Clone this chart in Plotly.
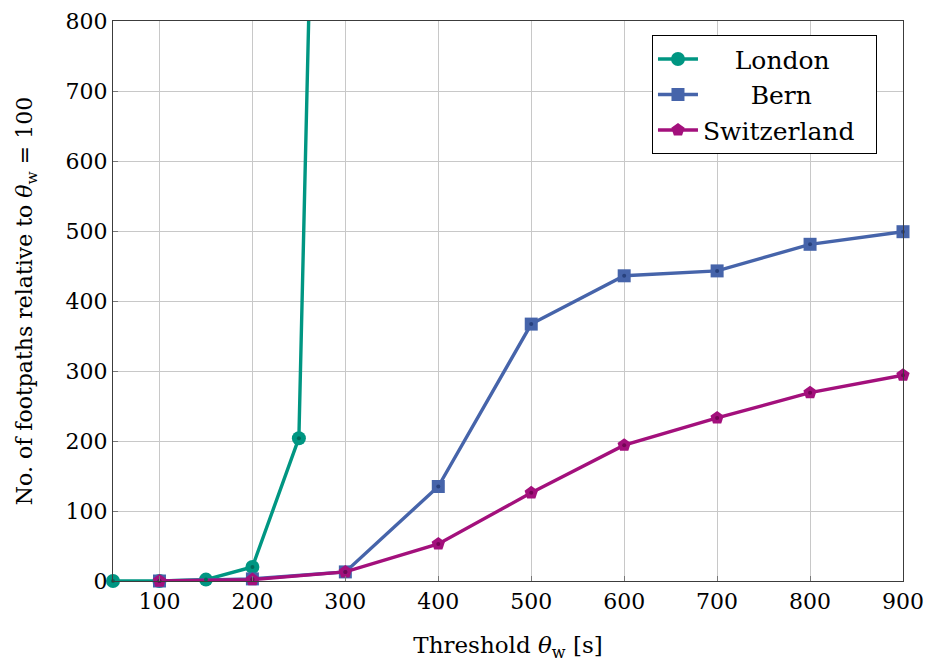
import plotly.graph_objects as go

london_x = [50, 100, 150, 200, 250, 300]
london_y = [0, 0, 2, 20, 204, 3040]
bern_x = [100, 200, 300, 400, 500, 600, 700, 800, 900]
bern_y = [0, 3, 13, 135, 367, 436, 443, 481, 499]
swiss_x = [100, 200, 300, 400, 500, 600, 700, 800, 900]
swiss_y = [0, 2, 13, 53, 126, 194, 233, 269, 294]
x_ticks = [100, 200, 300, 400, 500, 600, 700, 800, 900]
y_ticks = [0, 100, 200, 300, 400, 500, 600, 700, 800]

FONT = "DejaVu Serif"
NB = "\u00a0"
series = [
    ("London", NB * 4 + "London", london_x, london_y, "rgb(0,150,130)", "rgb(0,105,90)", "circle", 14),
    ("Bern", NB * 6 + "Bern", bern_x, bern_y, "rgb(70,100,170)", "rgb(40,65,125)", "square", 13),
    ("Switzerland", "Switzerland" + NB * 2, swiss_x, swiss_y, "rgb(163,16,124)", "rgb(115,5,85)", "pentagon", 14),
]

fig = go.Figure()
for key, label, xs, ys, col, dark, sym, sz in series:
    fig.add_trace(go.Scatter(
        x=xs, y=ys, name=label, mode="lines+markers",
        line=dict(color=col, width=3.4),
        marker=dict(symbol=sym, size=sz, color=col, line=dict(width=0)),
        cliponaxis=False, legendgroup=key,
    ))
for key, label, xs, ys, col, dark, sym, sz in series:
    fig.add_trace(go.Scatter(
        x=xs, y=ys, mode="markers", showlegend=False, hoverinfo="skip",
        marker=dict(symbol="circle", size=4, color=dark, line=dict(width=0)),
        cliponaxis=False, legendgroup=key,
    ))

axis_common = dict(
    showgrid=True, gridcolor="rgb(200,200,200)", gridwidth=1,
    showline=True, linecolor="rgb(60,60,60)", linewidth=1.2, mirror=True,
    ticks="inside", ticklen=5, tickcolor="rgb(120,120,120)",
    tickfont=dict(family=FONT, size=22, color="black"),
    zeroline=False, automargin=False, ticklabeloverflow="allow",
)
fig.update_xaxes(range=[50, 900], tickvals=x_ticks, **axis_common,
                 title=dict(text="Threshold <i>θ</i><sub>w</sub> [s]",
                            font=dict(family=FONT, size=23, color="black"), standoff=25))
fig.update_yaxes(range=[0, 800], tickvals=y_ticks, **axis_common,
                 title=dict(text="No. of footpaths relative to <i>θ</i><sub>w</sub> = 100",
                            font=dict(family=FONT, size=22, color="black"), standoff=26))

fig.update_layout(
    width=927, height=662,
    margin=dict(l=113, r=24, t=21, b=81),
    plot_bgcolor="white", paper_bgcolor="white",
    font=dict(family=FONT, size=22, color="black"),
    legend=dict(x=0.682, y=0.975, xanchor="left", yanchor="top",
                bgcolor="white", bordercolor="black", borderwidth=1.2,
                font=dict(family=FONT, size=25, color="black"),
                itemwidth=40, tracegroupgap=0),
    showlegend=True,
)
fig.write_html("out.html")
